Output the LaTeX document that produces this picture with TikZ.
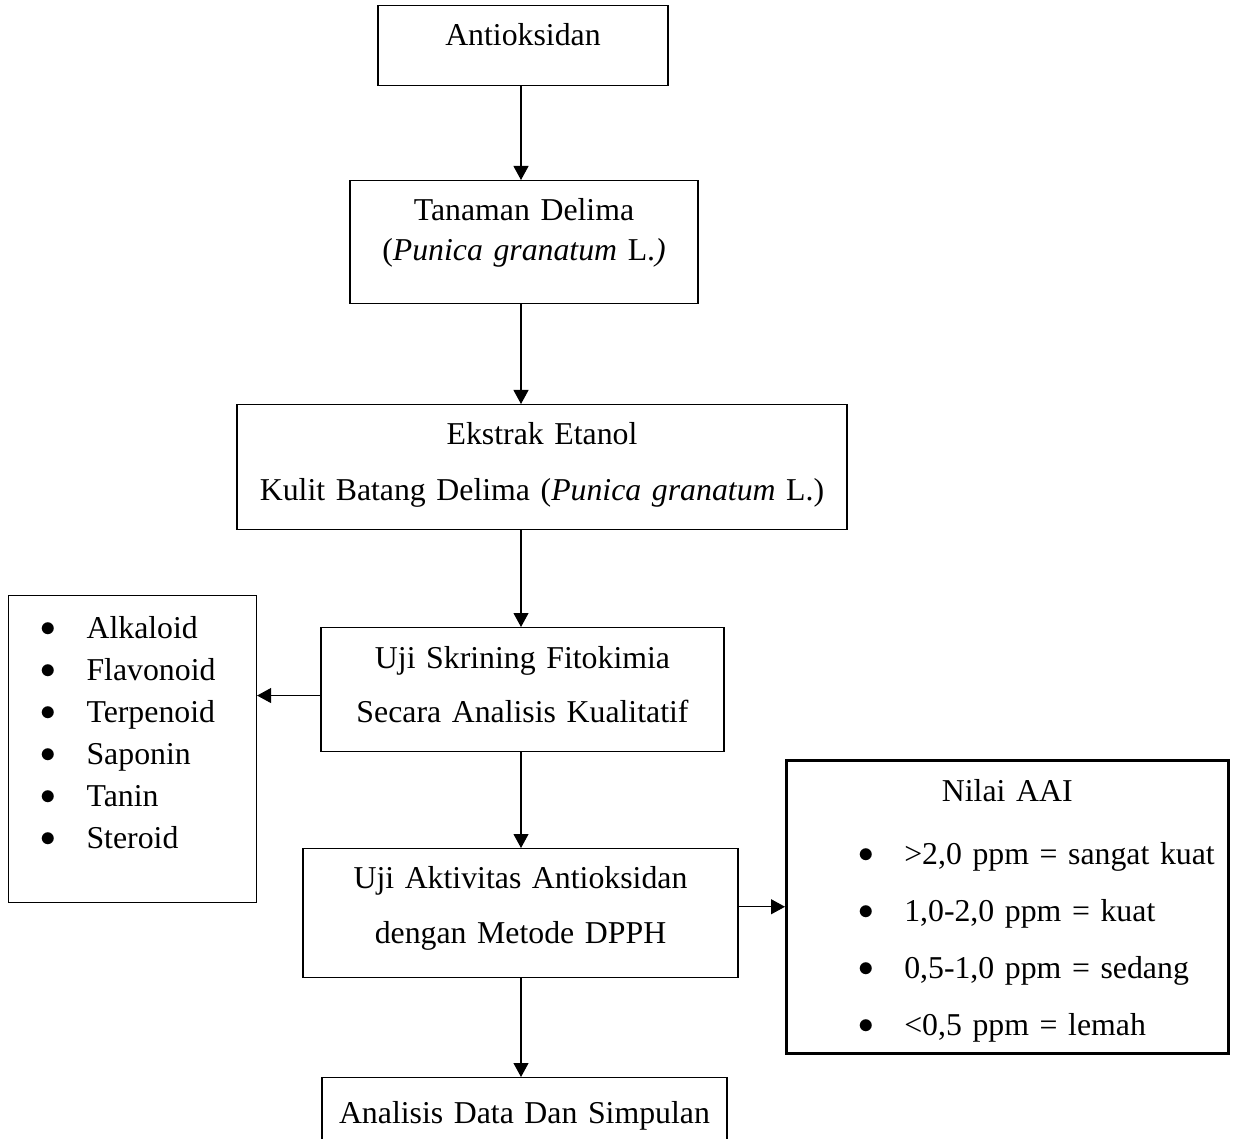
\documentclass[tikz,border=0pt]{standalone}
\usepackage{fontspec}
\setmainfont{Liberation Serif}
\usetikzlibrary{arrows.meta}
\newcommand{\butir}[1]{\makebox[46pt][l]{\raisebox{2pt}{\scalebox{1.25}{$\bullet$}}}#1}

\begin{document}
\begin{tikzpicture}[x=1pt,y=-1pt,
  font=\fontsize{31.8}{40}\selectfont,
  box/.style={draw,line width=1.1pt,inner sep=0pt,align=center},
  arr/.style={-{Triangle[length=14pt,width=15pt]},line width=1.1pt}]

\useasboundingbox (0,0) rectangle (1237,1139);
\clip (0,0) rectangle (1237,1139);
\coordinate (axis) at (521,0);

\node (A) at (523,5)[box,anchor=north,text width=290pt,text height=40pt,text depth=40pt] {Antioksidan};
\node (T) at (524,180)[box,anchor=north,text width=348pt,text height=40pt,text depth=83pt] {Tanaman Delima\\(\textit{Punica granatum} L.\textit{)}};
\node (E) at (542,404)[box,anchor=north,text width=610pt,text height=40pt,text depth=85pt] {Ekstrak Etanol\\[16pt]Kulit Batang Delima (\textit{Punica granatum} L.)};
\node (U) at (522.5,627)[box,anchor=north,text width=403pt,text height=41pt,text depth=83pt] {Uji Skrining Fitokimia\\[14pt]Secara Analisis Kualitatif};
\node (V) at (520.5,848)[box,anchor=north,text width=435pt,text height=40pt,text depth=89pt] {Uji Aktivitas Antioksidan\\[15pt]dengan Metode DPPH};
\node (D) at (524.5,1077)[box,anchor=north,text width=405pt,text height=46pt,text depth=80pt] {Analisis Data Dan Simpulan};
\node (L) at (8,595)[box,align=left,anchor=north west,text width=248pt,text height=43pt,text depth=264pt] {\hspace*{32pt}\butir{Alkaloid}\\[2pt]
  \hspace*{32pt}\butir{Flavonoid}\\[2pt]
  \hspace*{32pt}\butir{Terpenoid}\\[2pt]
  \hspace*{32pt}\butir{Saponin}\\[2pt]
  \hspace*{32pt}\butir{Tanin}\\[2pt]
  \hspace*{32pt}\butir{Steroid}};
\node (R) at (785,759)[box,line width=2.5pt,align=left,anchor=north west,text width=442pt,text height=41pt,text depth=252pt] {\makebox[\linewidth]{Nilai AAI}\\[23pt]
  \hspace*{72pt}\butir{>2,0 ppm = sangat kuat}\\[17pt]
  \hspace*{72pt}\butir{1,0-2,0 ppm = kuat}\\[17pt]
  \hspace*{72pt}\butir{0,5-1,0 ppm = sedang}\\[17pt]
  \hspace*{72pt}\butir{<0,5 ppm = lemah}};

\draw[arr] (A.south -| axis) -- (T.north -| axis);
\draw[arr] (T.south -| axis) -- (E.north -| axis);
\draw[arr] (E.south -| axis) -- (U.north -| axis);
\draw[arr] (U.south -| axis) -- (V.north -| axis);
\draw[arr] (V.south -| axis) -- (D.north -| axis);
\coordinate (uL) at ([yshift=-6pt]U.west);
\draw[arr] (uL) -- (uL -| L.east);
\draw[arr] (V.east |- R.west) -- (R.west);
\end{tikzpicture}
\end{document}
